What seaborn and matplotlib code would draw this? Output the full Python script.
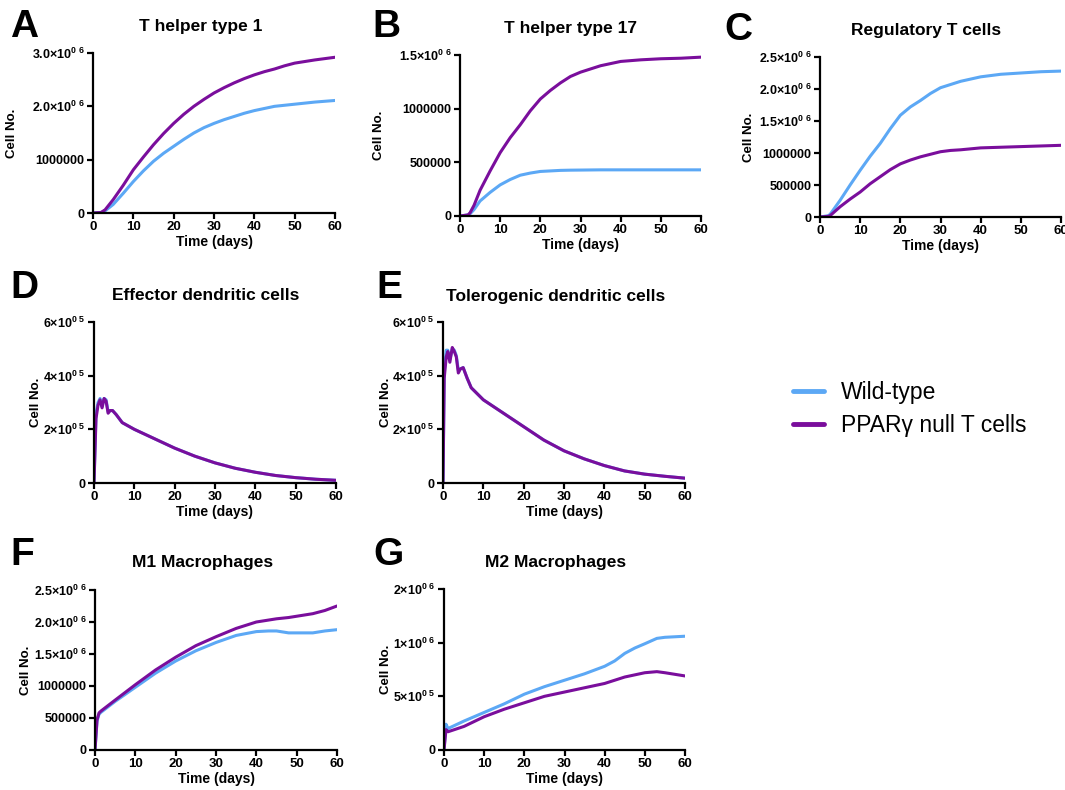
import numpy as np
import pandas as pd
import matplotlib
matplotlib.use("Agg")
import matplotlib.pyplot as plt
import seaborn as sns
from matplotlib.lines import Line2D

sns.set_theme(style="ticks")
plt.rcParams["font.family"] = ["Liberation Sans", "DejaVu Sans"]
plt.rcParams["mathtext.fontset"] = "custom"
plt.rcParams["mathtext.rm"] = "Liberation Sans:bold"
plt.rcParams["mathtext.it"] = "Liberation Sans:bold"
plt.rcParams["mathtext.bf"] = "Liberation Sans:bold"
plt.rcParams["text.color"] = "black"
plt.rcParams["axes.labelcolor"] = "black"
plt.rcParams["xtick.color"] = "black"
plt.rcParams["ytick.color"] = "black"

BLUE = "#5CA8F5"
PURPLE = "#7A0E9C"
series_names = ["Wild-type", "PPARγ null T cells"]

# ---------------- data ----------------
x_ticks = [0, 10, 20, 30, 40, 50, 60]

# A  T helper type 1 (x1e6)
th1_t = [0, 2, 3, 5, 7.5, 10, 12.5, 15, 17.5, 20, 22.5, 25, 27.5, 30, 32.5, 35, 37.5, 40, 42.5, 45, 47.5, 50, 55, 60]
th1_wt = [0, 0.01, 0.04, 0.16, 0.37, 0.59, 0.79, 0.97, 1.12, 1.25, 1.38, 1.50, 1.60, 1.68, 1.75, 1.81, 1.87, 1.92, 1.96, 2.00, 2.02, 2.04, 2.08, 2.11]
th1_ko = [0, 0.01, 0.06, 0.25, 0.52, 0.81, 1.05, 1.28, 1.49, 1.68, 1.85, 2.00, 2.13, 2.25, 2.35, 2.44, 2.52, 2.59, 2.65, 2.70, 2.76, 2.81, 2.87, 2.92]
th1_yticks = [0, 1e6, 2e6, 3e6]
th1_ylabels = ["0", "1000000", "2.0×10$^{0\\ 6}$", "3.0×10$^{0\\ 6}$"]

# B  T helper type 17 (x1e6)
th17_t = [0, 2, 2.5, 3.5, 5, 7.5, 10, 12.5, 15, 17.5, 20, 22.5, 25, 27.5, 30, 35, 40, 45, 50, 55, 60]
th17_wt = [0, 0.01, 0.02, 0.06, 0.14, 0.22, 0.29, 0.34, 0.38, 0.40, 0.415, 0.42, 0.425, 0.427, 0.428, 0.43, 0.43, 0.43, 0.43, 0.43, 0.43]
th17_ko = [0, 0.01, 0.03, 0.10, 0.24, 0.42, 0.59, 0.73, 0.85, 0.98, 1.09, 1.17, 1.24, 1.30, 1.34, 1.40, 1.44, 1.455, 1.465, 1.47, 1.48]
th17_yticks = [0, 5e5, 1e6, 1.5e6]
th17_ylabels = ["0", "500000", "1000000", "1.5×10$^{0\\ 6}$"]

# C  Regulatory T cells (x1e6)
treg_t = [0, 2, 2.5, 5, 7.5, 10, 12.5, 15, 17.5, 20, 22.5, 25, 27.5, 30, 32.5, 35, 40, 45, 50, 55, 60]
treg_wt = [0, 0.02, 0.04, 0.26, 0.50, 0.73, 0.95, 1.15, 1.38, 1.59, 1.72, 1.82, 1.93, 2.02, 2.07, 2.12, 2.19, 2.23, 2.25, 2.27, 2.28]
treg_ko = [0, 0.01, 0.02, 0.16, 0.28, 0.39, 0.52, 0.63, 0.74, 0.83, 0.89, 0.94, 0.98, 1.02, 1.04, 1.05, 1.08, 1.09, 1.10, 1.11, 1.12]
treg_yticks = [0, 5e5, 1e6, 1.5e6, 2e6, 2.5e6]
treg_ylabels = ["0", "500000", "1000000", "1.5×10$^{0\\ 6}$",
                "2.0×10$^{0\\ 6}$", "2.5×10$^{0\\ 6}$"]

# D  Effector dendritic cells (x1e5)
edc_t = [0, 0.5, 1, 1.5, 2, 2.5, 3, 3.5, 4, 4.6, 5.5, 7, 10, 15, 20, 25, 30, 35, 40, 45, 50, 55, 60]
edc_wt = [0, 2.6, 3.0, 3.15, 2.85, 3.15, 3.1, 2.65, 2.7, 2.7, 2.55, 2.25, 2.0, 1.65, 1.3, 1.0, 0.75, 0.55, 0.4, 0.28, 0.2, 0.14, 0.1]
edc_ko = [0, 2.4, 2.9, 3.1, 2.8, 3.15, 3.05, 2.6, 2.7, 2.7, 2.55, 2.25, 2.0, 1.65, 1.3, 1.0, 0.75, 0.55, 0.4, 0.28, 0.2, 0.14, 0.1]
dc_yticks = [0, 2e5, 4e5, 6e5]
dc_ylabels = ["0", "2×10$^{0\\ 5}$", "4×10$^{0\\ 5}$", "6×10$^{0\\ 5}$"]

# E  Tolerogenic dendritic cells (x1e5)
tdc_t = [0, 0.3, 0.8, 1.2, 1.7, 2.3, 2.8, 3.3, 3.8, 4.3, 5, 6, 7, 10, 15, 20, 25, 30, 35, 40, 45, 50, 55, 60]
tdc_wt = [0, 4.1, 4.95, 4.95, 4.6, 5.0, 4.95, 4.75, 4.2, 4.25, 4.3, 3.9, 3.55, 3.1, 2.6, 2.1, 1.6, 1.2, 0.9, 0.65, 0.45, 0.33, 0.25, 0.18]
tdc_ko = [0, 3.9, 4.7, 4.9, 4.5, 5.05, 4.9, 4.7, 4.1, 4.25, 4.3, 3.9, 3.55, 3.1, 2.6, 2.1, 1.6, 1.2, 0.9, 0.65, 0.45, 0.33, 0.25, 0.18]

# F  M1 Macrophages (x1e6)
m1_t = [0, 0.5, 1, 1.5, 5, 10, 15, 20, 25, 30, 35, 40, 43, 45, 48, 50, 54, 57, 60]
m1_wt = [0, 0.45, 0.56, 0.59, 0.76, 0.98, 1.20, 1.39, 1.55, 1.68, 1.79, 1.85, 1.86, 1.86, 1.83, 1.83, 1.83, 1.86, 1.88]
m1_ko = [0, 0.47, 0.58, 0.61, 0.78, 1.02, 1.25, 1.45, 1.63, 1.77, 1.90, 2.00, 2.03, 2.05, 2.07, 2.09, 2.13, 2.18, 2.25]

# G  M2 Macrophages (x1e6)
m2_t = [0, 0.5, 1, 5, 10, 15, 20, 25, 30, 35, 40, 42.5, 45, 47.5, 50, 53, 55, 60]
m2_wt = [0, 0.24, 0.20, 0.27, 0.35, 0.43, 0.52, 0.59, 0.65, 0.71, 0.78, 0.83, 0.90, 0.95, 0.99, 1.04, 1.05, 1.06]
m2_ko = [0, 0.19, 0.17, 0.22, 0.31, 0.38, 0.44, 0.50, 0.54, 0.58, 0.62, 0.65, 0.68, 0.70, 0.72, 0.73, 0.72, 0.69]
m2_yticks = [0, 5e5, 1e6, 1.5e6]
m2_ylabels = ["0", "5×10$^{0\\ 5}$", "1×10$^{0\\ 6}$", "2×10$^{0\\ 6}$"]

# ---------------- figure ----------------
W, H = 1065, 790
fig = plt.figure(figsize=(W / 100, H / 100), dpi=100)


def panel(rect_px, t, wt, ko, scale, yticks, ylabels, title, title_xy, letter,
          letter_xy, ylab_x):
    x0, x1, ytop, ybot = rect_px
    ax = fig.add_axes([x0 / W, 1 - ybot / H, (x1 - x0) / W, (ybot - ytop) / H])
    df = pd.DataFrame({
        "Time": list(t) + list(t),
        "Cells": [v * scale for v in wt] + [v * scale for v in ko],
        "Group": [series_names[0]] * len(t) + [series_names[1]] * len(t),
    })
    sns.lineplot(data=df, x="Time", y="Cells", hue="Group",
                 palette={series_names[0]: BLUE, series_names[1]: PURPLE},
                 estimator=None, sort=False, legend=False, linewidth=2.2, ax=ax)
    ax.set_xlim(0, 60)
    ax.set_ylim(0, yticks[-1])
    ax.set_xticks(x_ticks)
    ax.set_xticklabels([str(v) for v in x_ticks], fontsize=9.5, fontweight="bold")
    ax.set_yticks(yticks)
    ax.set_yticklabels(ylabels, fontsize=9, fontweight="bold")
    for s in ["top", "right"]:
        ax.spines[s].set_visible(False)
    for s in ["left", "bottom"]:
        ax.spines[s].set_linewidth(1.6)
        ax.spines[s].set_color("black")
    ax.tick_params(axis="both", width=1.6, length=4, color="black", pad=2,
                   labelcolor="black")
    ax.set_xlabel("Time (days)", fontsize=10, fontweight="bold", labelpad=1)
    ax.set_ylabel("Cell No.", fontsize=9.5, fontweight="bold")
    ax.yaxis.set_label_coords(ylab_x / W, 1 - ((ytop + ybot) / 2) / H,
                              transform=fig.transFigure)
    ax.patch.set_alpha(0)
    fig.text(title_xy[0] / W, 1 - title_xy[1] / H, title, fontsize=12.5,
             fontweight="bold", ha="center", va="center")
    fig.text(letter_xy[0] / W, 1 - letter_xy[1] / H, letter, fontsize=28,
             fontweight="bold", ha="left", va="center")
    return ax


panel((93, 335, 53, 213), th1_t, th1_wt, th1_ko, 1e6, th1_yticks, th1_ylabels,
      "T helper type 1", (201, 27), "A", (10, 27), 18)
panel((460, 701, 55, 216), th17_t, th17_wt, th17_ko, 1e6, th17_yticks, th17_ylabels,
      "T helper type 17", (570, 28), "B", (372, 27), 385)
panel((820, 1061, 57, 217), treg_t, treg_wt, treg_ko, 1e6, treg_yticks, treg_ylabels,
      "Regulatory T cells", (926, 30), "C", (724, 30), 755)
panel((94, 336, 322, 483), edc_t, edc_wt, edc_ko, 1e5, dc_yticks, dc_ylabels,
      "Effector dendritic cells", (206, 296), "D", (10, 288), 42)
panel((443, 685, 322, 483), tdc_t, tdc_wt, tdc_ko, 1e5, dc_yticks, dc_ylabels,
      "Tolerogenic dendritic cells", (556, 296), "E", (376, 288), 392)
panel((95, 337, 590, 750), m1_t, m1_wt, m1_ko, 1e6, treg_yticks, treg_ylabels,
      "M1 Macrophages", (203, 563), "F", (10, 555), 32)
panel((444, 685, 589, 750), m2_t, m2_wt, m2_ko, 1e6, m2_yticks, m2_ylabels,
      "M2 Macrophages", (556, 563), "G", (373, 555), 392)

handles = [Line2D([0], [0], color=BLUE, lw=3.5),
           Line2D([0], [0], color=PURPLE, lw=3.5)]
fig.legend(handles, series_names, loc="upper left",
           bbox_to_anchor=(772 / W, 1 - 360 / H), frameon=False,
           fontsize=16.5, handlelength=1.35, handletextpad=0.75, labelspacing=0.45)

fig.savefig("out.png", dpi=100)
